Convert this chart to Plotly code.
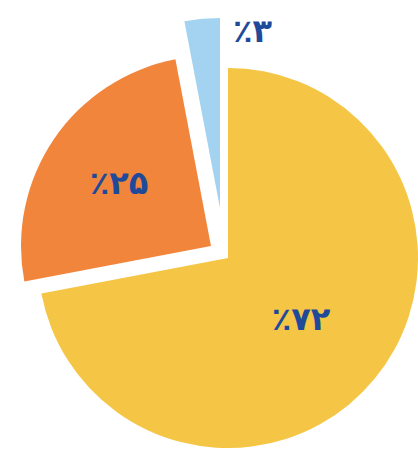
import plotly.graph_objects as go

# slice shares (percent), clockwise from 12 o'clock
labels = ["A", "B", "C"]
values = [72, 25, 3]
colors = ["#F5C545", "#F2853C", "#A3D3F0"]

fa_digits = str.maketrans("0123456789", "۰۱۲۳۴۵۶۷۸۹")


def fa_percent(v):
    return "٪" + str(v).translate(fa_digits)


W, H = 418, 451
R = 190
CX, CY = 228, 258
# pixel offsets of the exploded slices from the main centre
offsets = [(0, 0), (-17, -12), (-8, -50)]

txt_font = dict(family="DejaVu Sans", size=32, color="#1F4A9A", weight="bold")

fig = go.Figure()
for i, (dx, dy) in enumerate(offsets):
    cx, cy = CX + dx, CY + dy
    cols = ["rgba(0,0,0,0)"] * len(values)
    cols[i] = colors[i]
    txt = [""] * len(values)
    if i < 2:
        txt[i] = fa_percent(values[i])
    fig.add_trace(go.Pie(
        labels=labels,
        values=values,
        sort=False,
        direction="clockwise",
        rotation=0,
        marker=dict(colors=cols, line=dict(width=0)),
        text=txt,
        textinfo="text",
        textposition="inside",
        insidetextorientation="horizontal",
        textfont=txt_font,
        hoverinfo="skip",
        showlegend=False,
        domain=dict(x=[(cx - R) / W, (cx + R) / W],
                    y=[(H - cy - R) / H, (H - cy + R) / H]),
    ))

fig.add_annotation(
    text=fa_percent(values[2]),
    x=231 / W, y=(H - 31) / H, xref="paper", yref="paper",
    xanchor="left", yanchor="middle", showarrow=False,
    font=txt_font,
)

fig.update_layout(
    width=W, height=H,
    margin=dict(l=0, r=0, t=0, b=0),
    paper_bgcolor="white",
    plot_bgcolor="white",
)

# drop the default 8px body margin so the figure fills the window
fig.write_html("out.html", config={"displayModeBar": False},
               post_script="document.body.style.margin='0';")
